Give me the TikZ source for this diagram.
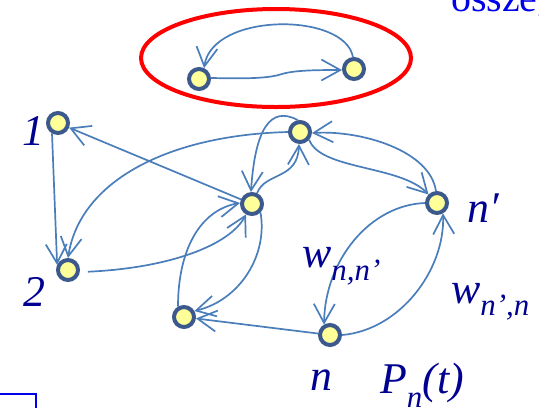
\documentclass[tikz,border=0pt]{standalone}
\usepackage{fontspec}
\setmainfont{Liberation Serif}
\usetikzlibrary{arrows.meta}
\definecolor{edgeblue}{RGB}{74,126,187}
\definecolor{ringblue}{RGB}{59,89,140}
\definecolor{nodeyellow}{RGB}{255,255,153}
\definecolor{labblue}{RGB}{0,0,145}
\definecolor{topblue}{RGB}{0,0,235}
\definecolor{ellred}{RGB}{255,0,0}
\tikzset{
  vert/.style={circle, draw=ringblue, fill=nodeyellow, line width=4bp, minimum size=20bp, inner sep=0pt},
  arr/.style={draw=edgeblue, line width=1.7bp, -{Straight Barb[length=19bp,width=21bp]}},
  lab/.style={text=labblue, inner sep=0pt, font=\fontsize{44}{48}\selectfont\itshape},
}
\newcommand{\mysub}[2]{\raisebox{-#1}{\fontsize{31}{33}\selectfont #2}}
\begin{document}
\begin{tikzpicture}[x=1bp,y=-1bp]
\clip (0,0) rectangle (539,407);
% top text (cut)
\node[anchor=base west, text=topblue, inner sep=0pt, font=\fontsize{40}{44}\selectfont] (top) at (451,11) {összeg};
% red ellipse
\draw[ellred, line width=4bp] (276,58) ellipse [x radius=135, y radius=49];
% nodes
\node[vert] (A) at (199,79) {};
\node[vert] (B) at (354,69) {};
\node[vert] (n1) at (58,123) {};
\node[vert] (n2) at (68,270) {};
\node[vert] (C) at (252,204) {};
\node[vert] (D) at (300,132) {};
\node[vert] (np) at (437,203) {};
\node[vert] (E) at (184,317) {};
\node[vert] (n) at (330,335) {};
% edges
\draw[arr] (B.95) .. controls (345,12) and (212,12) .. (A.65);
\draw[arr] (A.5) .. controls (250,79) and (270,78) .. (282,74) .. controls (295,70) and (320,70) .. (B.185);
\draw[arr] (C) -- (n1);
\draw[arr] (n1.240) -- (n2.155);
\draw[arr] (D.180) .. controls (170,135) and (80,180) .. (n2.90);
\draw[arr, shorten <=8bp] (n2.-10) .. controls (170,268) and (230,245) .. (C.240);
\draw[arr] (E.120) .. controls (178,250) and (200,210) .. (C.175);
\draw[arr] (C.-45) .. controls (268,255) and (240,300) .. (E.30);
\draw[arr] (D.100) .. controls (270,105) and (255,130) .. (C.95);
\draw[arr] (C.65) .. controls (265,172) and (298,180) .. (D.-95);
\draw[arr] (np.95) .. controls (430,150) and (360,130) .. (D.-5);
\draw[arr] (D.-40) .. controls (320,170) and (400,165) .. (np.135);
\draw[arr] (np.180) .. controls (370,205) and (325,260) .. (n.120);
\draw[arr] (n.0) .. controls (400,330) and (445,270) .. (np.-60);
\draw[arr] (n) -- (E);
% labels
\node[lab, anchor=base] (l1) at (33,145) {1};
\node[lab, anchor=base] (l2) at (34,306) {2};
\node[lab, anchor=base west] (lnp) at (467,222) {n′};
\node[lab, anchor=base west] (lw1) at (302,267) {w\mysub{13bp}{n,n’}};
\node[lab, anchor=base west] (lw2) at (451,303) {w\mysub{12bp}{n’,n}};
\node[lab, anchor=base west] (ln) at (310,390) {n};
\node[lab, anchor=base west] (lp) at (380,393) {P\mysub{14bp}{n}(t)};
% corner of box, bottom left
\draw[topblue, line width=2bp] (0,394) -- (36,394) -- (36,410);
\end{tikzpicture}
\end{document}
